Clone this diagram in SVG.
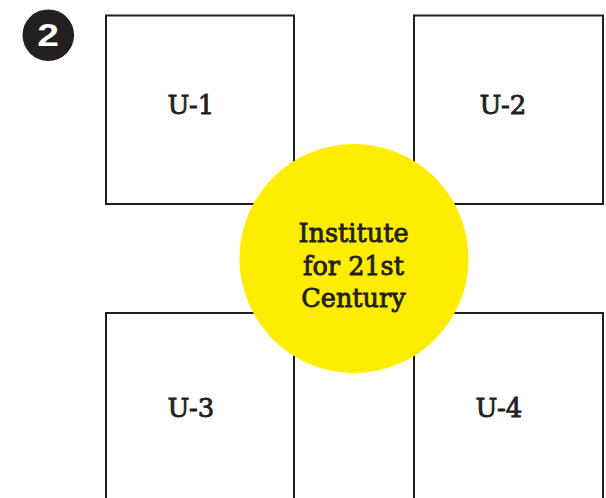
<svg xmlns="http://www.w3.org/2000/svg" width="606" height="498" viewBox="0 0 606 498">
<style>
.box{fill:#fff;stroke:#231f20;stroke-width:2}
.lbl{font-family:"DejaVu Serif",serif;font-size:26px;fill:#231f20;stroke:#231f20;stroke-width:0.85;text-anchor:middle}
.ctr{font-family:"DejaVu Serif",serif;font-size:25.5px;fill:#231f20;stroke:#231f20;stroke-width:0.85;text-anchor:middle}
</style>
<rect width="606" height="498" fill="#fff"/>
<g id="badge">
<circle cx="48.3" cy="35.2" r="25.8" fill="#231f20"/>
<text transform="translate(48,46.3) scale(1.22,1)" font-family="Liberation Sans, Arial, sans-serif" font-weight="bold" font-size="32" fill="#fff" text-anchor="middle">2</text>
</g>
<g id="connectors"></g>
<g id="u1"><rect class="box" x="106" y="15.5" width="188" height="188.5"/><text class="lbl" x="191" y="114">U-1</text></g>
<g id="u2"><rect class="box" x="414" y="15.5" width="189" height="188.5"/><text class="lbl" x="503" y="114">U-2</text></g>
<g id="u3"><rect class="box" x="106" y="313" width="188" height="200"/><text class="lbl" x="191" y="417">U-3</text></g>
<g id="u4"><rect class="box" x="414" y="313" width="189" height="200"/><text class="lbl" x="499" y="417">U-4</text></g>
<g id="center">
<circle cx="354" cy="258.5" r="114.5" fill="#ffed00"/>
<text class="ctr" x="353.5" y="242.3">Institute</text>
<text class="ctr" x="353.5" y="275">for 21st</text>
<text class="ctr" x="353.5" y="306.7">Century</text>
</g>
</svg>
